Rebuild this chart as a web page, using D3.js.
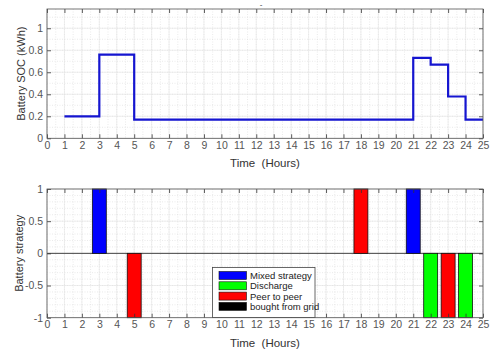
<!DOCTYPE html>
<html>
<head>
<meta charset="utf-8">
<script src="https://cdn.jsdelivr.net/npm/d3@7"></script>
<style>
  body { margin: 0; background: #fff; }
  svg { font-family: "Liberation Sans", Arial, sans-serif; }
</style>
</head>
<body>
<div id="chart"></div>
<script>
// state of charge, step after each hour boundary
const socHours = [1, 3, 5, 21, 22, 23, 24, 25];
const socValues = [0.2, 0.76, 0.17, 0.73, 0.67, 0.38, 0.17, 0.17];

// battery strategy bars
const barHours = [3, 5, 18, 21, 22, 23, 24];
const barValues = [1, -1, 1, 1, -1, -1, -1];
const barTypes = ['Mixed strategy', 'Peer to peer', 'Peer to peer', 'Mixed strategy', 'Discharge', 'Peer to peer', 'Discharge'];

const legendLabels = ['Mixed strategy', 'Discharge', 'Peer to peer', 'bought from grid'];
const legendColors = ['#0000ff', '#00ff00', '#ff0000', '#000000'];

const xTicks = d3.range(0, 26);
const socTicks = [0, 0.2, 0.4, 0.6, 0.8, 1];
const stratTicks = [-1, -0.5, 0, 0.5, 1];

const width = 499;
const height = 364;
const colorOf = d3.scaleOrdinal().domain(legendLabels).range(legendColors);

const svg = d3.select('#chart').append('svg')
  .attr('width', width)
  .attr('height', height);

const xScale = d3.scaleLinear().domain([0, 25]).range([47, 483]);

function drawFrame(g, yScale, yTicks, minorY) {
  const [y0, y1] = yScale.range();
  // minor grid
  g.append('g').selectAll('line').data(d3.range(0, 25.01, 0.5))
    .join('line')
    .attr('x1', d => xScale(d)).attr('x2', d => xScale(d))
    .attr('y1', y1).attr('y2', y0)
    .attr('stroke', '#dcdcdc').attr('stroke-width', 0.6)
    .attr('stroke-dasharray', '1,1.5');
  g.append('g').selectAll('line').data(minorY)
    .join('line')
    .attr('x1', xScale(0)).attr('x2', xScale(25))
    .attr('y1', d => yScale(d)).attr('y2', d => yScale(d))
    .attr('stroke', '#dcdcdc').attr('stroke-width', 0.6)
    .attr('stroke-dasharray', '1,1.5');
  // major grid
  g.append('g').selectAll('line').data(xTicks)
    .join('line')
    .attr('x1', d => xScale(d)).attr('x2', d => xScale(d))
    .attr('y1', y1).attr('y2', y0)
    .attr('stroke', '#e4e4e4').attr('stroke-width', 0.6);
  g.append('g').selectAll('line').data(yTicks)
    .join('line')
    .attr('x1', xScale(0)).attr('x2', xScale(25))
    .attr('y1', d => yScale(d)).attr('y2', d => yScale(d))
    .attr('stroke', '#e4e4e4').attr('stroke-width', 0.6);
}

function drawAxes(g, yScale, yTicks, fmt) {
  const [y0, y1] = yScale.range();
  const axStyle = sel => {
    sel.select('.domain').remove();
    sel.selectAll('line').attr('stroke', '#333').attr('stroke-width', 0.8);
    sel.selectAll('text').attr('fill', '#555').style('font-size', '10.5px');
  };
  g.append('g').attr('transform', `translate(0,${y0})`)
    .call(d3.axisBottom(xScale).tickValues(xTicks).tickSize(-4).tickPadding(3))
    .call(axStyle);
  g.append('g').attr('transform', `translate(0,${y1})`)
    .call(d3.axisTop(xScale).tickValues(xTicks).tickSize(-4).tickFormat(''))
    .call(axStyle);
  g.append('g').attr('transform', `translate(${xScale(0)},0)`)
    .call(d3.axisLeft(yScale).tickValues(yTicks).tickSize(-4).tickPadding(4).tickFormat(fmt))
    .call(axStyle);
  g.append('g').attr('transform', `translate(${xScale(25)},0)`)
    .call(d3.axisRight(yScale).tickValues(yTicks).tickSize(-4).tickFormat(''))
    .call(axStyle);
  g.append('rect')
    .attr('x', xScale(0)).attr('y', y1)
    .attr('width', xScale(25) - xScale(0)).attr('height', y0 - y1)
    .attr('fill', 'none').attr('stroke', '#555').attr('stroke-width', 0.8);
}

// ---- top: SOC ----
const ySoc = d3.scaleLinear().domain([0, 1.175]).range([138.3, 9]);
const socPanel = svg.append('g');
drawFrame(socPanel, ySoc, socTicks, d3.range(0.1, 1.17, 0.1));
const socLine = d3.line()
  .x((d, i) => xScale(socHours[i]))
  .y(d => ySoc(d))
  .curve(d3.curveStepAfter);
socPanel.append('path')
  .datum(socValues)
  .attr('d', socLine)
  .attr('fill', 'none')
  .attr('stroke', '#1515d0')
  .attr('stroke-width', 2.2);
drawAxes(socPanel, ySoc, socTicks, d => d === 0 || d === 1 ? d : d.toFixed(1));
socPanel.append('text').attr('x', 261).attr('y', 7).attr('text-anchor', 'middle')
  .style('font-size', '8px').attr('fill', '#333').text('-');
socPanel.append('text').attr('x', 265).attr('y', 167).attr('text-anchor', 'middle')
  .style('font-size', '11.5px').attr('fill', '#333').attr('xml:space', 'preserve').text('Time  (Hours)');
socPanel.append('text')
  .attr('transform', `translate(24.5,${(9 + 138.3) / 2}) rotate(-90)`)
  .attr('text-anchor', 'middle')
  .style('font-size', '11px').attr('fill', '#333').text('Battery SOC (kWh)');

// ---- bottom: strategy ----
const yStrat = d3.scaleLinear().domain([-1, 1]).range([317.7, 189]);
const stratPanel = svg.append('g');
drawFrame(stratPanel, yStrat, stratTicks, d3.range(-0.9, 0.95, 0.1));
stratPanel.append('line')
  .attr('x1', xScale(0)).attr('x2', xScale(25))
  .attr('y1', yStrat(0)).attr('y2', yStrat(0))
  .attr('stroke', '#444').attr('stroke-width', 1);
stratPanel.append('g').selectAll('rect').data(barHours)
  .join('rect')
  .attr('x', d => xScale(d - 0.4))
  .attr('width', xScale(0.8) - xScale(0))
  .attr('y', (d, i) => yStrat(Math.max(0, barValues[i])))
  .attr('height', (d, i) => Math.abs(yStrat(barValues[i]) - yStrat(0)))
  .attr('fill', (d, i) => colorOf(barTypes[i]))
  .attr('stroke', '#111').attr('stroke-width', 0.8);
drawAxes(stratPanel, yStrat, stratTicks, d => d);
stratPanel.append('text').attr('x', 265).attr('y', 347).attr('text-anchor', 'middle')
  .style('font-size', '11.5px').attr('fill', '#333').attr('xml:space', 'preserve').text('Time  (Hours)');
stratPanel.append('text')
  .attr('transform', `translate(23,${(189 + 317.7) / 2}) rotate(-90)`)
  .attr('text-anchor', 'middle')
  .style('font-size', '11px').attr('fill', '#333').text('Battery strategy');

// legend
const legend = stratPanel.append('g').attr('transform', 'translate(212.5,267.5)');
legend.append('rect').attr('width', 102.5).attr('height', 50)
  .attr('fill', '#fff').attr('stroke', '#444').attr('stroke-width', 0.8);
const rows = legend.selectAll('g.row').data(legendLabels).join('g')
  .attr('class', 'row')
  .attr('transform', (d, i) => `translate(0,${4 + i * 10.3})`);
rows.append('rect').attr('x', 6.5).attr('width', 27.5).attr('height', 8)
  .attr('fill', d => colorOf(d)).attr('stroke', '#111').attr('stroke-width', 0.6);
rows.append('text').attr('x', 37.5).attr('y', 7.5)
  .style('font-size', '9.5px').attr('fill', '#222').text(d => d);
</script>
</body>
</html>
